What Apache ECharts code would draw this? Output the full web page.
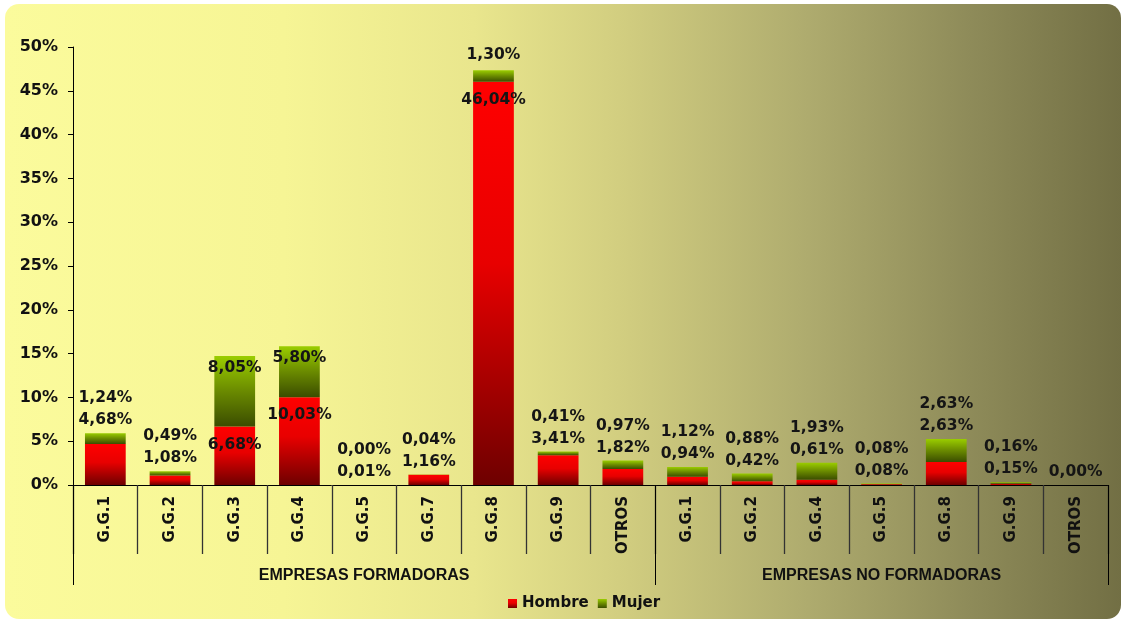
<!DOCTYPE html>
<html>
<head>
<meta charset="utf-8">
<script src="https://cdn.jsdelivr.net/npm/echarts@6/dist/echarts.min.js"></script>
<style>
  html, body { margin: 0; padding: 0; background: #ffffff; }
  #bg {
    position: absolute; left: 5px; top: 4px; width: 1116px; height: 615px;
    border-radius: 14px;
    background: linear-gradient(to right, #fbfb9c 0%, #f6f595 25%, #e9e68d 42%, #d2ce80 55%, #aeab6e 72%, #8f8c5a 86%, #726f44 100%);
  }
  #chart { position: absolute; left: 0; top: 0; width: 1122px; height: 619px; }
</style>
</head>
<body>
<div id="bg"></div>
<div id="chart"></div>
<script>
// ---- data ----
const groupNames = ['EMPRESAS FORMADORAS', 'EMPRESAS NO FORMADORAS'];
const categoriesForm = ['G.G.1', 'G.G.2', 'G.G.3', 'G.G.4', 'G.G.5', 'G.G.7', 'G.G.8', 'G.G.9', 'OTROS'];
const categoriesNoForm = ['G.G.1', 'G.G.2', 'G.G.4', 'G.G.5', 'G.G.8', 'G.G.9', 'OTROS'];
const hombreForm = [4.68, 1.08, 6.68, 10.03, 0.01, 1.16, 46.04, 3.41, 1.82];
const mujerForm = [1.24, 0.49, 8.05, 5.80, 0.00, 0.04, 1.30, 0.41, 0.97];
const hombreNoForm = [0.94, 0.42, 0.61, 0.08, 2.63, 0.15, 0.00];
const mujerNoForm = [1.12, 0.88, 1.93, 0.08, 2.63, 0.16, 0.00];
const seriesNames = ['Hombre', 'Mujer'];
const yTicks = { min: 0, max: 50, interval: 5 };

// ---- build ----
const categories = categoriesForm.concat(categoriesNoForm);
const hombre = hombreForm.concat(hombreNoForm);
const mujer = mujerForm.concat(mujerNoForm);
const groupSizes = [categoriesForm.length, categoriesNoForm.length];

// group axis: half-slot positions (boundaryGap false, 2N+1 points)
const nHalf = categories.length * 2;
const groupData = new Array(nHalf + 1).fill('');
const groupTicks = new Set([0]);
let acc = 0;
groupSizes.forEach((s, g) => {
  groupData[acc * 2 + s] = groupNames[g];
  acc += s;
  groupTicks.add(acc * 2);
});

const fmt = v => v.toFixed(2).replace('.', ',') + '%';
const DL = { fontFamily: 'DejaVu Sans', fontWeight: 'bold', fontSize: 15.5, color: '#151515', lineHeight: 22 };

const hombreData = hombre.map(v => ({
  value: v,
  label: v > 5 ? Object.assign({ show: true, position: 'insideTop', distance: 7, formatter: fmt(v) }, DL) : { show: false }
}));
const mujerData = mujer.map((v, i) => {
  const h = hombre[i];
  let lab;
  if (v > 5) lab = { show: true, position: 'insideTop', distance: 1, formatter: fmt(v) };
  else if (h > 5) lab = { show: true, position: 'top', distance: 4, formatter: fmt(v) };
  else lab = { show: true, position: 'top', distance: 2, formatter: (h === 0 && v === 0) ? fmt(v) : fmt(v) + '\n' + fmt(h) };
  return { value: v, label: Object.assign(lab, DL) };
});

const redGrad = new echarts.graphic.LinearGradient(0, 0, 0, 1, [
  { offset: 0, color: '#ff0000' }, { offset: 0.45, color: '#e80000' }, { offset: 1, color: '#6e0000' }
]);
const greenGrad = new echarts.graphic.LinearGradient(0, 0, 0, 1, [
  { offset: 0, color: '#9acd00' }, { offset: 0.5, color: '#6a8a00' }, { offset: 1, color: '#3b4d00' }
]);

const chart = echarts.init(document.getElementById('chart'), null, { renderer: 'canvas' });
chart.setOption({
  backgroundColor: 'transparent',
  animation: false,
  grid: { left: 73, right: 14, top: 47, bottom: 134, containLabel: false },
  legend: {
    data: seriesNames,
    left: 503, top: 591,
    itemWidth: 9, itemHeight: 9, itemGap: 9,
    textStyle: { fontFamily: 'DejaVu Sans', fontWeight: 'bold', fontSize: 15, color: '#111' },
    icon: 'rect'
  },
  xAxis: [
    {
      type: 'category', data: categories, position: 'bottom',
      axisLine: { show: true, lineStyle: { color: '#000', width: 1 } },
      axisTick: { show: true, length: 69, interval: 0, lineStyle: { color: '#333', width: 1.3 } },
      axisLabel: { interval: 0, rotate: 90, margin: 11, fontFamily: 'DejaVu Sans', fontWeight: 'bold', fontSize: 15, color: '#111' }
    },
    {
      type: 'category', data: groupData, position: 'bottom', boundaryGap: false,
      axisLine: { show: false },
      axisTick: { show: true, length: 100, interval: (idx) => groupTicks.has(idx), lineStyle: { color: '#000', width: 1 } },
      axisLabel: { interval: 0, margin: 83, fontFamily: 'Liberation Sans', fontWeight: 'bold', fontSize: 16, color: '#111' }
    }
  ],
  yAxis: {
    type: 'value', min: yTicks.min, max: yTicks.max, interval: yTicks.interval,
    axisLine: { show: true, lineStyle: { color: '#000', width: 1 } },
    axisTick: { show: true, length: 5, lineStyle: { color: '#000' } },
    splitLine: { show: false },
    axisLabel: { formatter: '{value}%', margin: 15, fontFamily: 'DejaVu Sans', fontWeight: 'bold', fontSize: 16, color: '#111' }
  },
  series: [
    { name: seriesNames[0], type: 'bar', stack: 'total', xAxisIndex: 0, barCategoryGap: '37%',
      itemStyle: { color: redGrad }, data: hombreData },
    { name: seriesNames[1], type: 'bar', stack: 'total', xAxisIndex: 0, barCategoryGap: '37%',
      itemStyle: { color: greenGrad }, data: mujerData }
  ]
});
</script>
</body>
</html>
